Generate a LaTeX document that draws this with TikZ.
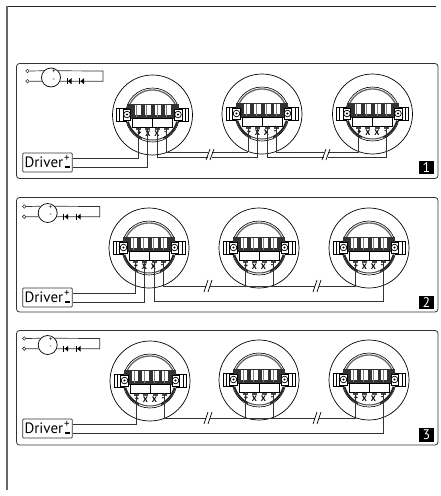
\documentclass[tikz,border=0pt]{standalone}
\usepackage{fontspec}
\setmainfont{PT Sans}
\usepackage{tikz}
\usetikzlibrary{positioning}
\definecolor{wirecol}{gray}{0.2}
\tikzset{
	wire/.style={draw=wirecol, line width=0.7pt},
	panel/.style={draw=wirecol, line width=0.8pt, rounded corners=3pt},
	driverbox/.style={draw=wirecol, line width=0.7pt, rounded corners=1pt, minimum width=49.6pt, minimum height=19pt, inner sep=1.5pt, text width=46pt, align=left, font=\fontsize{15}{15}\selectfont},
	signmark/.style={inner sep=0pt, font=\fontsize{11}{11}\selectfont},
	numbox/.style={fill=black, text=white, minimum width=14.5pt, minimum height=13.5pt, inner sep=0pt, font=\fontsize{14}{14}\selectfont},
	pin/.style={draw=wirecol, circle, fill=white, line width=0.6pt, minimum size=3.5pt, inner sep=0pt},
	battery/.style={draw=black, circle, fill=white, line width=0.7pt, minimum size=19pt, inner sep=0pt},
	termmark/.style={inner sep=0pt, font=\fontsize{8}{8}\selectfont\bfseries},
	sensor/.pic={
		\draw[line width=0.7pt] (0,0) circle (40pt);
		\draw[line width=0.6pt, fill=white] (0,0) circle (27pt);
		\draw[black!60, line width=1.3pt] plot[domain=-158:-22, samples=30] (\x:25);
		% side ears
		\foreach \s in {-1,1} {
			\draw[line width=0.6pt, fill=white] (\s*36,-7) rectangle (\s*26,6);
			\draw[line width=0.6pt] (\s*33,-7) -- (\s*33,6);
		}
		% terminal block
		\fill[black!80] (-26,-11.5) rectangle (26,4);
		\foreach \a/\b in {-18/-12,-8/-1.5,2.5/8.5,12/18} {
			\fill[white] (\a,-10) rectangle (\b,-0.5);
			\draw[line width=0.4pt, black!50] (\a+2,-10) -- (\a+2,2);
		}
		\fill[white] (-20,3) rectangle (20,12);
		\draw[line width=0.5pt] (-20,3) rectangle (20,12);
		\draw[line width=0.5pt] (0,3) -- (0,12);
		\foreach \s in {-1,1} {
			\draw[line width=0.5pt, fill=white] (\s*29.5,-6) rectangle (\s*22,5);
			\draw[line width=0.7pt, fill=white] (\s*25.5,-0.5) circle (3.3pt);
			\fill (\s*25.5,-0.5) circle (1.2pt);
		}
		% lower contacts
		\draw[black!85, line width=2pt] plot[domain=15:65, samples=15] (\x:25.5);
		\draw[black!85, line width=2pt] plot[domain=115:165, samples=15] (\x:25.5);
		\draw[black!70, line width=1pt] plot[domain=65:115, samples=15] (\x:25);
		\foreach \x in {-14,-5,5,14} {
			\fill[black!70] (\x-2.5,13) rectangle (\x+2.5,15);
		}
		\node[termmark] (-plusmark) at (-13,18) {+};
		\node[termmark] (-xa) at (-4.5,18.5) {X};
		\node[termmark] (-xb) at (4.5,18.5) {X};
		\node[termmark] (-minusmark) at (13,18) {-};
		\coordinate (-wa) at (-14,12);
		\coordinate (-wb) at (-5,12);
		\coordinate (-wc) at (5,12);
		\coordinate (-wd) at (14,12);
	},
	source/.pic={
		\node[battery] (-batt) at (0,0) {};
		\node[pin] (-pa) at (-23.5,-6.5) {};
		\node[pin] (-pb) at (-23.5,3.7) {};
		\coordinate (-ca) at (52,-6.5);
		\coordinate (-cb) at (52,3.7);
		\node[inner sep=0pt, font=\fontsize{7}{7}\selectfont] (-plusmark) at (3,-5.5) {+};
		\node[inner sep=0pt, font=\fontsize{7}{7}\selectfont] (-minusmark) at (3,2.5) {-};
		\draw[wire] (-pa) -- (-batt.137);
		\draw[wire] (-pb) -- (-batt.203);
		\draw[wire] (-batt.43) -- (-ca) -- (-cb) -- (-batt.-23);
		\foreach \x in {18,30.5} {
			\fill (\x-1,3.7) -- (\x+2.5,0.7) -- (\x+2.5,6.7) -- cycle;
			\draw[line width=0.9pt] (\x-2,0.7) -- (\x-2,6.7);
		}
	},
	brk/.style={line width=0.7pt},
}
\begin{document}
\begin{tikzpicture}[x=1pt, y=-1pt]
	\useasboundingbox (0,0) rectangle (441,496);
	\draw[line width=1pt, draw=black!85] (7,6) -- (436,6);
	\draw[line width=1.5pt, draw=black!60] (7,490) -- (7,5.5);

	% first wiring
	\draw[panel] (16.5,63.5) rectangle (438,178.5);
	\pic (batt1) at (51,77.5) {source};
	\pic (s1a) at (152.5,115) {sensor};
	\pic (s1b) at (262,114) {sensor};
	\pic (s1c) at (372.5,114) {sensor};
	\node[driverbox] (drv1) at (47.5,162.5) {Driver};
	\node[signmark] (plus1) at (67,158) {+};
	\node[signmark] (minus1) at (67,167) {\rule{5pt}{1.2pt}};
	\node[numbox] (num1) at (426.5,167.5) {1};
	\draw[wire] (s1a-wa) |- (drv1.east |- plus1);
	\draw[wire] (s1a-wb) |- (drv1.east |- minus1);
	\coordinate (up1) at (0,152);
	\coordinate (lo1) at (0,157);
	\draw[wire] (s1a-wd) |- (s1b-wa |- up1);
	\draw[wire] (s1a-wc) |- (s1b-wb |- lo1) -- (s1b-wb);
	\draw[wire] (s1b-wa) -- (s1b-wa |- up1);
	\draw[wire] (s1b-wd) |- (s1c-wa |- up1) -- (s1c-wa);
	\draw[wire] (s1b-wc) |- (s1c-wd |- lo1) -- (s1c-wd);
	\foreach \x in {210,326} {
		\fill[white] (\x-2,148) rectangle (\x+2,161);
		\draw[brk] (\x-4,160) -- (\x,149);
		\draw[brk] (\x,160) -- (\x+4,149);
	}

	% second wiring
	\draw[panel] (16.5,197.5) rectangle (438,312);
	\pic (batt2) at (47.7,213) {source};
	\pic (s2a) at (149,248) {sensor};
	\pic (s2b) at (259,248) {sensor};
	\pic (s2c) at (369,248) {sensor};
	\node[driverbox] (drv2) at (47.5,297.5) {Driver};
	\node[signmark] (plus2) at (67,293) {+};
	\node[signmark] (minus2) at (67,302) {\rule{5pt}{1.2pt}};
	\node[numbox] (num2) at (426.5,302.5) {2};
	\draw[wire] (s2a-wa) |- (drv2.east |- plus2);
	\draw[wire] (s2a-wb) |- (drv2.east |- minus2);
	\coordinate (up2) at (0,286);
	\coordinate (lo2) at (0,301);
	\draw[wire] (s2a-wd) |- (s2c-wa |- up2) -- (s2c-wa);
	\draw[wire] (s2a-wc) |- (s2c-wd |- lo2) -- (s2c-wd);
	\draw[wire] (s2b-wa) -- (s2b-wa |- up2);
	\draw[wire] (s2b-wd) -- (s2b-wd |- up2);
	\foreach \x in {208,317} {
		\fill[white] (\x-2,281) rectangle (\x+2,291);
		\draw[brk] (\x-4,292) -- (\x,280);
		\draw[brk] (\x,292) -- (\x+4,280);
	}

	% third wiring
	\draw[panel] (16.5,330.5) rectangle (438,445);
	\pic (batt3) at (47.7,345) {source};
	\pic (s3a) at (150,381) {sensor};
	\pic (s3b) at (259,380) {sensor};
	\pic (s3c) at (369,380) {sensor};
	\node[driverbox] (drv3) at (47.5,428.5) {Driver};
	\node[signmark] (plus3) at (67,424) {+};
	\node[signmark] (minus3) at (67,433) {\rule{5pt}{1.2pt}};
	\node[numbox] (num3) at (426.5,435) {3};
	\draw[wire] (s3a-wa) |- (drv3.east |- plus3);
	\draw[wire] (drv3.east |- minus3) -| (s3c-wd);
	\coordinate (up3) at (0,418);
	\draw[wire] (s3a-wd) |- (s3c-wa |- up3) -- (s3c-wa);
	\draw[wire] (s3b-wa) -- (s3b-wa |- up3);
	\draw[wire] (s3b-wd) -- (s3b-wd |- up3);
	\foreach \x in {208,317} {
		\fill[white] (\x-2,413) rectangle (\x+2,423);
		\draw[brk] (\x-4,424) -- (\x,412);
		\draw[brk] (\x,424) -- (\x+4,412);
	}
\end{tikzpicture}
\end{document}
